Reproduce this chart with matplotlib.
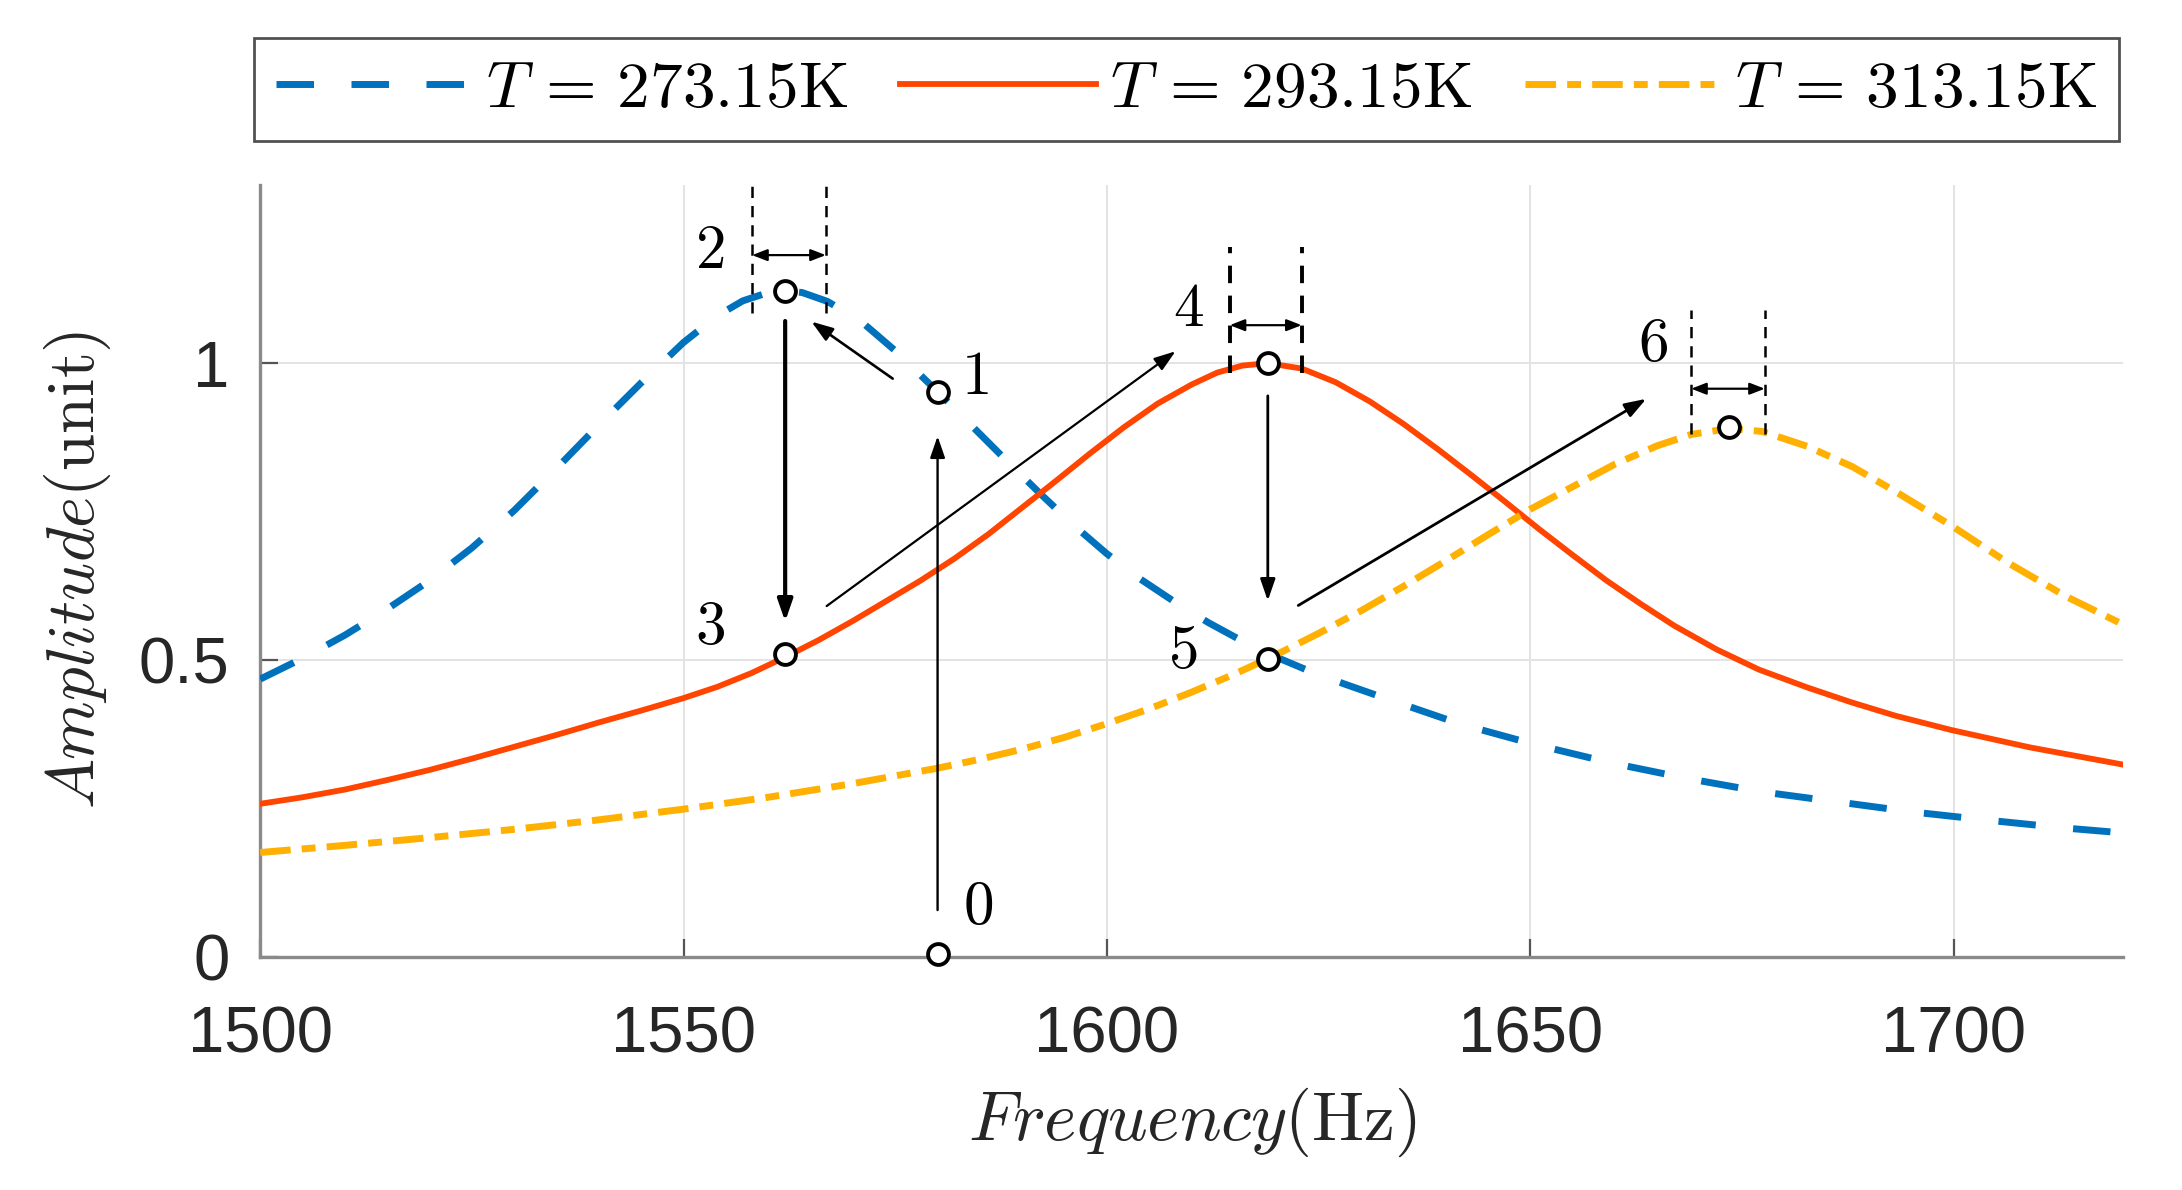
import matplotlib
matplotlib.use("Agg")
import matplotlib.pyplot as plt

plt.rcParams['mathtext.fontset'] = 'cm'
plt.rcParams['font.family'] = ['Liberation Sans', 'DejaVu Sans']

# ---------------- data ----------------
freq_273 = [1500, 1505, 1510, 1515, 1520, 1525, 1530, 1535, 1540, 1545,
            1550, 1554, 1557, 1560, 1562, 1564, 1567, 1571, 1575, 1580,
            1584, 1588, 1592, 1596, 1600, 1604, 1608, 1612, 1616, 1620,
            1624, 1628, 1633, 1641.8, 1650.5, 1659.5, 1668.4, 1677.4, 1686.4, 1695.3,
            1704.3, 1713.3, 1720]
amp_273 = [0.468, 0.503, 0.542, 0.586, 0.634, 0.689, 0.752, 0.823, 0.896, 0.967,
           1.035, 1.080, 1.105, 1.119, 1.122, 1.119, 1.104, 1.070, 1.021, 0.952,
           0.895, 0.838, 0.782, 0.728, 0.679, 0.636, 0.598, 0.563, 0.532, 0.505,
           0.481, 0.460, 0.435, 0.392, 0.358, 0.327, 0.301, 0.278, 0.261, 0.244,
           0.230, 0.217, 0.209]

freq_293 = [1500, 1505, 1510, 1515, 1520, 1525, 1530, 1535, 1540, 1545,
            1550, 1554, 1558, 1562, 1566, 1570, 1574, 1578, 1582, 1586,
            1590, 1594, 1598, 1602, 1606, 1610, 1613, 1616, 1619, 1623,
            1627, 1631, 1635, 1639, 1643, 1647, 1651, 1655, 1659, 1663,
            1667, 1672, 1677, 1682.7, 1687.9, 1693.2, 1699.8, 1709, 1720]
amp_293 = [0.258, 0.269, 0.282, 0.298, 0.315, 0.334, 0.354, 0.374, 0.395, 0.415,
           0.436, 0.455, 0.478, 0.505, 0.534, 0.566, 0.600, 0.634, 0.671, 0.712,
           0.757, 0.802, 0.848, 0.892, 0.932, 0.964, 0.984, 0.996, 1.000, 0.991,
           0.968, 0.936, 0.898, 0.856, 0.812, 0.767, 0.721, 0.677, 0.634, 0.595,
           0.558, 0.518, 0.484, 0.454, 0.429, 0.406, 0.382, 0.353, 0.324]

freq_313 = [1500, 1510, 1520, 1530, 1540, 1550, 1560, 1570, 1580, 1585,
            1590, 1595, 1600, 1605, 1610, 1615, 1620, 1625, 1630, 1635,
            1640, 1645, 1650, 1655, 1660, 1665, 1669, 1673.5, 1677.4, 1682.7,
            1688, 1693, 1700, 1706.4, 1713.3, 1720]
amp_313 = [0.176, 0.188, 0.201, 0.215, 0.231, 0.249, 0.269, 0.292, 0.318, 0.333,
           0.350, 0.370, 0.393, 0.418, 0.446, 0.476, 0.509, 0.545, 0.583, 0.624,
           0.667, 0.711, 0.754, 0.792, 0.830, 0.861, 0.880, 0.890, 0.885, 0.860,
           0.826, 0.785, 0.724, 0.664, 0.607, 0.560]

series_labels = [r'$T\,=\,273.15\mathrm{K}$', r'$T\,=\,293.15\mathrm{K}$',
                 r'$T\,=\,313.15\mathrm{K}$']

# state points 0..6
state_ids = ['0', '1', '2', '3', '4', '5', '6']
state_f = [1580.0, 1580.0, 1562.0, 1562.0, 1619.0, 1619.0, 1673.5]
state_a = [0.005, 0.952, 1.122, 0.511, 1.001, 0.502, 0.893]
label_f = [1584.8, 1584.4, 1553.1, 1553.1, 1609.6, 1608.9, 1664.5]
label_a = [0.082, 0.974, 1.187, 0.553, 1.089, 0.512, 1.030]

# transition arrows (start f, start a, end f, end a, width)
arrows = [
    (1580.0, 0.079, 1580.0, 0.877, 1.7),
    (1574.7, 0.974, 1565.1, 1.070, 1.9),
    (1562.0, 1.071, 1562.0, 0.565, 3.0),
    (1566.9, 0.591, 1608.1, 1.020, 1.6),
    (1619.0, 0.945, 1619.0, 0.600, 2.0),
    (1622.6, 0.592, 1663.7, 0.940, 2.0),
]

# bandwidth brackets: (f_left, f_right, a_bottom, a_top, a_arrow, lw)
brackets = [
    (1558.1, 1566.8, 1.084, 1.300, 1.182, 1.8),
    (1614.5, 1623.0, 0.983, 1.196, 1.064, 2.8),
    (1669.0, 1677.7, 0.881, 1.089, 0.957, 1.8),
]

x_ticks = [1500, 1550, 1600, 1650, 1700]
y_ticks = [0, 0.5, 1]
y_ticklabels = ['0', '0.5', '1']

# ---------------- figure ----------------
fig = plt.figure(figsize=(21.82, 11.90), dpi=100)
ax = fig.add_axes([0.11925, 0.1958, 0.8537, 0.6487])

c_blue, c_red, c_yel = '#0072BD', '#FF4500', '#FFB000'
l1, = ax.plot(freq_273, amp_273, color=c_blue, lw=5.0, linestyle=(0, (5.4, 5.4)),
              dash_capstyle='butt', solid_joinstyle='round', zorder=3)
l2, = ax.plot(freq_293, amp_293, color=c_red, lw=4.2, linestyle='-',
              solid_joinstyle='round', zorder=3)
l3, = ax.plot(freq_313, amp_313, color=c_yel, lw=5.0, linestyle=(0, (4.4, 1.6, 2.0, 1.6)),
              dash_capstyle='butt', zorder=3)

ax.set_xlim(1500, 1720)
ax.set_ylim(0, 1.3)
ax.set_xticks(x_ticks)
ax.set_yticks(y_ticks)
ax.set_yticklabels(y_ticklabels)
ax.grid(True, color='#e3e3e3', lw=1.4, zorder=0)
ax.set_axisbelow(True)
for s in ['top', 'right']:
    ax.spines[s].set_visible(False)
for s in ['left', 'bottom']:
    ax.spines[s].set_color('#8a8a8a')
    ax.spines[s].set_linewidth(2.4)
ax.tick_params(direction='in', length=13, width=1.6, color='#555555',
               labelsize=47, labelcolor='#262626')
ax.tick_params(axis='x', pad=35)
ax.tick_params(axis='y', pad=22)

# bracket lines
for fl, fr, ab, at, aa, lw in brackets:
    for fx in (fl, fr):
        ax.plot([fx, fx], [ab, at], color='k', lw=lw, linestyle=(0, (4.5, 3.2)),
                dash_capstyle='butt', zorder=5, clip_on=False)
    ax.annotate('', xy=(fr, aa), xytext=(fl, aa),
                arrowprops=dict(arrowstyle='<|-|>,head_length=9,head_width=3.5',
                                mutation_scale=1, color='k', lw=1.6,
                                shrinkA=0, shrinkB=0), zorder=6)

# transition arrows
for fs, as_, fe, ae, lw in arrows:
    ax.annotate('', xy=(fe, ae), xytext=(fs, as_),
                arrowprops=dict(arrowstyle='-|>,head_length=13,head_width=4.5',
                                mutation_scale=1, color='k', lw=lw,
                                shrinkA=0, shrinkB=0), zorder=6)

# state markers
ax.plot(state_f, state_a, linestyle='none', marker='o', ms=15, mfc='white',
        mec='k', mew=2.8, zorder=7, clip_on=False)
for sid, lf, la in zip(state_ids, label_f, label_a):
    ax.text(lf, la, '$\\mathrm{%s}$' % sid, fontsize=44, ha='center', va='center', zorder=8)

# axis labels
fig.text(0.5466, 0.0571, r'$Frequency(\mathrm{Hz})$', fontsize=50, ha='center', va='center',
         color='#262626')
fig.text(0.0353, 0.521, r'$Amplitude(\mathrm{unit})$', fontsize=48, ha='center', va='center',
         rotation=90, color='#262626')

# legend
leg = fig.legend([l1, l2, l3], series_labels, loc='center', ncol=3,
                 bbox_to_anchor=(0.5437, 0.9246), fontsize=47, frameon=True,
                 fancybox=False, edgecolor='#262626', handlelength=3.0,
                 handletextpad=0.22, columnspacing=0.8, borderpad=0.33,
                 borderaxespad=0.0)
leg.get_frame().set_linewidth(2.0)

fig.savefig('out.png', dpi=100)
